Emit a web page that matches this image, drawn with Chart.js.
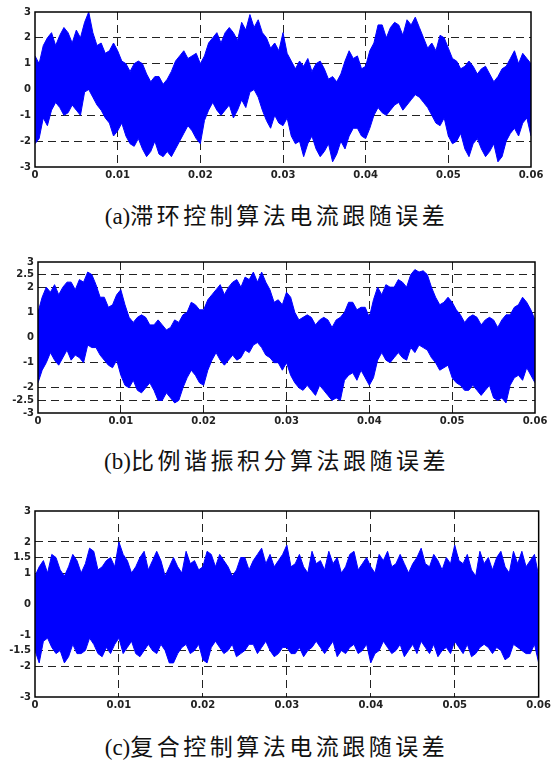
<!DOCTYPE html>
<html>
<head>
<meta charset="utf-8">
<script src="https://cdn.jsdelivr.net/npm/chart.js@4.4.1/dist/chart.umd.min.js"></script>
<style>
    body { margin: 0; background: #fff; width: 553px; height: 763px; position: relative; overflow: hidden; }
    .quadro { position: absolute; left: 0; width: 553px; }
    .legenda { position: absolute; left: 0; width: 553px; text-align: center; line-height: 30px;
               font-family: "Liberation Serif", "Noto Sans CJK SC", serif; font-size: 23px; color: #111; letter-spacing: 3.5px; }
    .legenda span { letter-spacing: 0; }
</style>
</head>
<body>
<div class="quadro" style="top:0"><canvas id="graficoA" width="553" height="185"></canvas></div>
<div class="legenda" style="top:202px"><span>(a)</span>滞环控制算法电流跟随误差</div>
<div class="quadro" style="top:250px"><canvas id="graficoB" width="553" height="185"></canvas></div>
<div class="legenda" style="top:447px"><span>(b)</span>比例谐振积分算法跟随误差</div>
<div class="quadro" style="top:500px"><canvas id="graficoC" width="553" height="218"></canvas></div>
<div class="legenda" style="top:733px"><span>(c)</span>复合控制算法电流跟随误差</div>

<script>
// envelope do erro: pontos a cada 1 ms e pontos intermediarios (0,5 ms)
const tempo = [0, 0.001, 0.002, 0.003, 0.004, 0.005, 0.006, 0.007, 0.008, 0.009,
    0.010, 0.011, 0.012, 0.013, 0.014, 0.015, 0.016, 0.017, 0.018, 0.019,
    0.020, 0.021, 0.022, 0.023, 0.024, 0.025, 0.026, 0.027, 0.028, 0.029,
    0.030, 0.031, 0.032, 0.033, 0.034, 0.035, 0.036, 0.037, 0.038, 0.039,
    0.040, 0.041, 0.042, 0.043, 0.044, 0.045, 0.046, 0.047, 0.048, 0.049,
    0.050, 0.051, 0.052, 0.053, 0.054, 0.055, 0.056, 0.057, 0.058, 0.059, 0.060];
const tempoMeio = [0.0005, 0.0015, 0.0025, 0.0035, 0.0045, 0.0055, 0.0065, 0.0075, 0.0085, 0.0095,
    0.0105, 0.0115, 0.0125, 0.0135, 0.0145, 0.0155, 0.0165, 0.0175, 0.0185, 0.0195,
    0.0205, 0.0215, 0.0225, 0.0235, 0.0245, 0.0255, 0.0265, 0.0275, 0.0285, 0.0295,
    0.0305, 0.0315, 0.0325, 0.0335, 0.0345, 0.0355, 0.0365, 0.0375, 0.0385, 0.0395,
    0.0405, 0.0415, 0.0425, 0.0435, 0.0445, 0.0455, 0.0465, 0.0475, 0.0485, 0.0495,
    0.0505, 0.0515, 0.0525, 0.0535, 0.0545, 0.0555, 0.0565, 0.0575, 0.0585, 0.0595];

const marcasX = [0, 0.01, 0.02, 0.03, 0.04, 0.05, 0.06];

// (a) histerese
const superiorA = [1.3, 1.7, 2.2, 2.1, 2.2, 2.3, 2.6, 2.2, 1.8, 1.5,
    1.5, 1.0, 1.0, 1.0, 0.3, 0.5, 0.4, 1.1, 1.5, 1.3,
    1.0, 1.8, 2.2, 2.2, 2.2, 2.6, 2.9, 2.7, 2.0, 1.8,
    2.2, 1.1, 1.1, 1.2, 1.0, 0.8, 0.5, 0.6, 1.5, 1.3,
    0.9, 1.8, 2.5, 2.4, 2.5, 2.7, 2.8, 2.0, 1.8, 2.1,
    1.6, 1.1, 0.9, 0.9, 0.8, 0.6, 0.5, 0.9, 1.5, 1.4, 1.0];
const superiorAMeio = [1.0, 2.0, 1.7, 2.4, 1.8, 2.0, 3.0, 1.7, 1.4, 1.8,
    1.1, 0.7, 1.1, 0.6, 0.5, 0.2, 0.7, 1.3, 1.2, 1.4,
    1.3, 2.0, 1.8, 2.4, 1.9, 2.3, 2.4, 2.2, 1.6, 1.5,
    1.4, 0.8, 0.9, 0.7, 1.1, 0.4, 0.3, 1.1, 1.2, 0.8,
    1.5, 2.5, 2.0, 2.6, 2.1, 2.5, 2.4, 1.6, 1.5, 2.0,
    1.2, 0.8, 1.1, 0.6, 0.9, 0.3, 0.8, 1.2, 1.0, 1.2];
const inferiorA = [-2.1, -1.1, -0.8, -0.7, -0.9, -0.8, -0.1, -0.3, -0.8, -1.3,
    -1.6, -1.8, -2.2, -2.3, -2.4, -2.5, -2.4, -2.3, -1.7, -1.6,
    -2.1, -0.8, -0.8, -0.8, -1.1, -0.4, -0.1, -0.3, -1.2, -1.0,
    -1.4, -1.8, -2.0, -2.1, -2.3, -2.4, -2.8, -2.0, -1.8, -1.5,
    -1.9, -1.0, -0.9, -0.8, -0.5, -0.6, -0.2, -0.5, -1.0, -1.4,
    -1.8, -2.0, -2.3, -2.1, -2.3, -2.4, -2.8, -2.0, -1.5, -1.3, -1.8];
const inferiorAMeio = [-1.9, -1.4, -0.5, -1.0, -0.6, -1.0, 0.0, -0.6, -1.1, -1.8,
    -1.3, -2.1, -1.9, -2.6, -2.0, -2.6, -2.6, -2.0, -1.4, -1.9,
    -1.2, -0.5, -1.0, -0.6, -0.8, -0.7, 0.0, -0.8, -1.5, -1.3,
    -1.1, -2.1, -2.6, -1.8, -2.6, -2.1, -2.5, -2.3, -1.5, -1.8,
    -1.5, -0.7, -1.0, -0.6, -0.8, -0.4, -0.3, -0.7, -1.3, -1.1,
    -2.1, -1.7, -2.6, -1.9, -2.6, -2.1, -2.6, -1.7, -1.8, -1.1];
const marcasYA = [-3, -2, -1, 0, 1, 2, 3];

// (b) PR + integral
const superiorB = [1.0, 2.0, 2.1, 2.0, 2.2, 2.3, 2.6, 2.1, 1.6, 1.3,
    1.9, 0.8, 0.8, 0.8, 0.5, 0.5, 0.4, 0.6, 1.0, 1.3,
    1.1, 1.7, 2.1, 2.0, 2.3, 2.4, 2.6, 2.6, 1.9, 1.5,
    1.8, 1.0, 0.8, 0.8, 0.7, 0.7, 0.7, 1.0, 1.4, 1.2,
    0.8, 2.0, 2.1, 2.0, 2.2, 2.5, 2.6, 2.5, 1.6, 1.4,
    1.4, 0.9, 0.8, 0.8, 0.7, 0.7, 0.7, 0.9, 1.3, 1.4, 0.7];
const superiorBMeio = [1.6, 1.8, 1.7, 2.2, 1.9, 2.2, 2.5, 1.6, 1.2, 1.7,
    1.3, 0.6, 0.9, 0.5, 0.7, 0.3, 0.7, 0.9, 1.4, 1.1,
    1.5, 1.9, 1.7, 2.2, 2.0, 2.3, 2.2, 2.2, 1.4, 1.3,
    1.6, 0.7, 0.9, 0.5, 0.8, 0.4, 0.8, 1.4, 1.1, 1.2,
    1.5, 1.7, 2.0, 2.3, 2.0, 2.7, 2.65, 2.0, 1.3, 1.6,
    1.1, 0.6, 0.9, 0.5, 0.8, 0.4, 0.9, 1.2, 1.6, 1.1];
const inferiorB = [-1.8, -1.0, -0.9, -0.8, -0.9, -0.8, -0.3, -0.4, -0.9, -1.2,
    -1.5, -2.0, -2.1, -2.0, -2.1, -2.5, -2.4, -2.5, -1.6, -1.5,
    -1.9, -0.9, -0.9, -0.9, -0.9, -0.5, -0.3, -0.4, -0.8, -1.0,
    -1.0, -1.8, -2.1, -2.1, -1.9, -2.3, -2.4, -1.7, -1.4, -1.3,
    -1.9, -0.9, -0.9, -0.8, -0.8, -0.4, -0.3, -0.5, -1.0, -1.2,
    -1.6, -1.9, -2.1, -2.1, -2.1, -2.4, -2.4, -1.9, -1.5, -1.2, -1.8];
const inferiorBMeio = [-1.3, -0.6, -1.1, -0.5, -0.7, -1.0, -0.4, -0.7, -1.1, -0.9,
    -1.9, -1.7, -2.2, -1.8, -2.5, -2.2, -2.6, -2.0, -1.3, -1.8,
    -1.3, -0.6, -1.1, -0.7, -0.8, -0.6, -0.2, -0.7, -1.0, -1.3,
    -1.5, -2.0, -1.9, -2.3, -2.1, -2.5, -2.5, -1.5, -1.7, -1.6,
    -1.6, -0.6, -1.0, -0.6, -0.9, -0.6, -0.4, -0.8, -1.3, -1.1,
    -1.8, -2.1, -1.9, -2.3, -1.9, -2.5, -2.6, -1.6, -1.7, -1.5];
const marcasYB = [-3, -2.5, -2, -1, 0, 1, 2, 2.5, 3];

// (c) composto
const superiorC = [0.9, 1.4, 1.6, 1.1, 1.2, 1.4, 1.3, 1.7, 1.2, 1.5,
    2.0, 1.4, 1.2, 1.7, 1.4, 1.4, 1.2, 1.2, 1.7, 1.4,
    1.2, 1.6, 1.6, 1.2, 1.1, 1.5, 1.4, 1.8, 1.6, 1.4,
    1.9, 1.3, 1.2, 1.7, 1.4, 1.7, 1.5, 1.2, 1.7, 1.3,
    1.2, 1.6, 1.7, 1.3, 1.3, 1.3, 1.8, 1.2, 1.4, 1.5,
    1.9, 1.3, 1.1, 1.7, 1.5, 1.5, 1.2, 1.7, 1.7, 1.4, 0.9];
const superiorCMeio = [1.2, 1.0, 1.5, 0.9, 1.6, 1.0, 1.8, 1.1, 1.4, 1.2,
    1.6, 1.0, 1.5, 1.1, 1.7, 0.9, 1.5, 1.0, 1.3, 1.1,
    1.7, 1.2, 1.4, 0.9, 1.5, 1.1, 1.6, 1.3, 1.2, 1.6,
    1.2, 1.6, 1.0, 1.3, 1.1, 1.3, 1.0, 1.6, 1.1, 1.5,
    1.0, 1.4, 1.2, 1.6, 1.0, 1.5, 1.3, 1.6, 1.1, 1.3,
    1.4, 1.6, 0.9, 1.3, 1.1, 1.7, 1.0, 1.3, 1.2, 1.6];
const inferiorC = [-1.5, -1.2, -1.4, -1.5, -1.7, -1.6, -1.5, -1.3, -1.7, -1.6,
    -1.1, -1.4, -1.6, -1.5, -1.5, -1.3, -1.9, -1.6, -1.3, -1.5,
    -1.8, -1.4, -1.4, -1.5, -1.7, -1.5, -1.3, -1.4, -1.5, -1.6,
    -1.4, -1.6, -1.7, -1.4, -1.4, -1.4, -1.7, -1.6, -1.3, -1.5,
    -1.9, -1.5, -1.4, -1.5, -1.7, -1.3, -1.2, -1.6, -1.7, -1.4,
    -1.2, -1.6, -1.7, -1.4, -1.4, -1.4, -1.8, -1.3, -1.5, -1.6, -1.9];
const inferiorCMeio = [-1.9, -1.1, -1.6, -1.9, -1.3, -1.6, -1.1, -1.6, -1.4, -1.3,
    -1.6, -1.2, -1.7, -1.3, -1.6, -1.5, -1.9, -1.4, -1.6, -1.3,
    -1.9, -1.2, -1.6, -1.3, -1.6, -1.3, -1.6, -1.2, -1.7, -1.4,
    -1.6, -1.4, -1.5, -1.2, -1.6, -1.2, -1.5, -1.4, -1.6, -1.3,
    -1.6, -1.2, -1.6, -1.3, -1.5, -1.6, -1.4, -1.3, -1.5, -1.6,
    -1.4, -1.3, -1.6, -1.3, -1.6, -1.5, -1.7, -1.4, -1.6, -1.3];
const marcasYC = [-3, -2, -1.5, -1, 0, 1, 1.5, 2, 3];

const caixa = {
    id: 'caixa',
    afterDatasetsDraw(chart) {
        const { ctx, chartArea: a } = chart;
        ctx.save();
        ctx.strokeStyle = '#000';
        ctx.lineWidth = 1.5;
        ctx.strokeRect(a.left, a.top, a.right - a.left, a.bottom - a.top);
        ctx.restore();
    }
};

const fonteTicks = { family: 'DejaVu Sans', size: 10, weight: 'bold' };

function corGrade(total) {
    return c => (c.index === 0 || c.index === total - 1) ? 'rgba(0,0,0,0)' : '#222';
}

// junta os pontos de 1 ms com os intermediarios
function montarPontos(valores, valoresMeio) {
    const pontos = [];
    tempo.forEach((t, i) => {
        pontos.push({ x: t, y: valores[i] });
        if (i < tempoMeio.length) pontos.push({ x: tempoMeio[i], y: valoresMeio[i] });
    });
    return pontos;
}

function gerarGrafico(id, superior, superiorMeio, inferior, inferiorMeio, marcasY, area) {
    new Chart(document.getElementById(id), {
        type: 'line',
        data: {
            datasets: [
                {
                    data: montarPontos(superior, superiorMeio),
                    borderColor: '#0000ff', backgroundColor: '#0000ff',
                    borderWidth: 1, pointRadius: 0, tension: 0, fill: '+1'
                },
                {
                    data: montarPontos(inferior, inferiorMeio),
                    borderColor: '#0000ff', backgroundColor: '#0000ff',
                    borderWidth: 1, pointRadius: 0, tension: 0, fill: false
                }
            ]
        },
        options: {
            responsive: false,
            animation: false,
            layout: { padding: { top: area.top, right: area.right, left: 0, bottom: 0 } },
            plugins: { legend: { display: false }, tooltip: { enabled: false } },
            scales: {
                x: {
                    type: 'linear', min: 0, max: 0.06,
                    afterBuildTicks: s => { s.ticks = marcasX.map(v => ({ value: v })); },
                    afterFit: s => { s.height = area.bottom; },
                    ticks: { autoSkip: false, maxRotation: 0, padding: 2, color: '#222', font: fonteTicks,
                             callback: v => String(v) },
                    grid: { color: corGrade(marcasX.length), drawTicks: false, lineWidth: 1 },
                    border: { display: false, dash: [8, 5] }
                },
                y: {
                    type: 'linear', min: -3, max: 3,
                    afterBuildTicks: s => { s.ticks = marcasY.map(v => ({ value: v })); },
                    afterFit: s => { s.width = area.left; },
                    ticks: { autoSkip: false, padding: 4, color: '#222', font: fonteTicks,
                             callback: v => String(v) },
                    grid: { color: corGrade(marcasY.length), drawTicks: false, lineWidth: 1 },
                    border: { display: false, dash: [8, 5] }
                }
            }
        },
        plugins: [caixa]
    });
}

gerarGrafico('graficoA', superiorA, superiorAMeio, inferiorA, inferiorAMeio, marcasYA, { top: 12, right: 22, left: 35, bottom: 18 });
gerarGrafico('graficoB', superiorB, superiorBMeio, inferiorB, inferiorBMeio, marcasYB, { top: 12, right: 18, left: 38, bottom: 22 });
gerarGrafico('graficoC', superiorC, superiorCMeio, inferiorC, inferiorCMeio, marcasYC, { top: 11, right: 14, left: 35, bottom: 21 });
</script>
</body>
</html>
